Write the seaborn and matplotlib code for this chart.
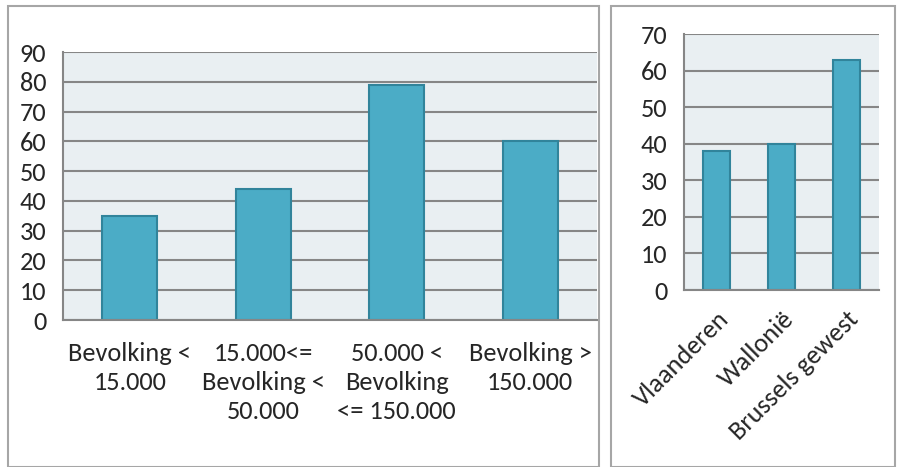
import matplotlib
matplotlib.use("Agg")
import numpy as np
import seaborn as sns
from matplotlib import pyplot as plt
from matplotlib.patches import Rectangle

# data
size_labels = ["Bevolking <\n15.000", "15.000<=\nBevolking <\n50.000",
               "50.000 <\nBevolking\n<= 150.000", "Bevolking >\n150.000"]
size_values = [35, 44, 79, 60]
region_labels = ["Vlaanderen", "Wallonië", "Brussels gewest"]
region_values = [38, 40, 63]

BAR = "#4BACC6"
EDGE = "#31849B"
BG = "#E9EFF2"
GRID = "#868686"
FS = 19

sns.set_style("white")
plt.rcParams["font.family"] = ["Carlito", "Lato", "DejaVu Sans"]
plt.rcParams["font.size"] = FS

W, H = 897, 467
fig = plt.figure(figsize=(W / 100, H / 100), dpi=100)


def px_axes(x0, y0, x1, y1):
    return fig.add_axes([x0 / W, 1 - y1 / H, (x1 - x0) / W, (y1 - y0) / H])


# panel frames
for x0, x1 in [(8, 599), (611, 895)]:
    fig.patches.append(Rectangle((x0 / W, 0), (x1 - x0) / W, 1 - 6 / H, transform=fig.transFigure,
                                 fill=False, edgecolor="#A6A6A6", linewidth=1.5))


def style(ax, n, ymax, step):
    ax.set_facecolor(BG)
    ax.set_xlim(-0.5, n - 0.5)
    ax.set_ylim(0, ymax)
    ax.set_yticks(np.arange(0, ymax + 1, step))
    ax.yaxis.grid(True, color=GRID, linewidth=1.5)
    ax.set_axisbelow(True)
    for s in ["top", "right"]:
        ax.spines[s].set_visible(False)
    for s in ["left", "bottom"]:
        ax.spines[s].set_color(GRID)
        ax.spines[s].set_linewidth(1.5)
    ax.tick_params(axis="y", length=7, width=1.5, color=GRID, pad=5, labelsize=FS)
    ax.tick_params(axis="x", which="major", length=0, pad=16, labelsize=FS)
    ax.set_xticks(np.arange(-0.5, n, 1.0), minor=True)
    ax.tick_params(axis="x", which="minor", length=7, width=1.5, color=GRID)
    ax.set_xlabel("")
    ax.set_ylabel("")


ax1 = px_axes(63, 52, 597, 320)
sns.barplot(x=size_labels, y=size_values, color=BAR, saturation=1, width=0.41,
            edgecolor=EDGE, linewidth=1.5, ax=ax1)
style(ax1, len(size_labels), 90, 10)
for lbl in ax1.get_xticklabels():
    lbl.set_multialignment("center")
    lbl.set_linespacing(1.3)

ax2 = px_axes(684, 34, 879, 290)
sns.barplot(x=region_labels, y=region_values, color=BAR, saturation=1, width=0.42,
            edgecolor=EDGE, linewidth=1.5, ax=ax2)
style(ax2, len(region_labels), 70, 10)
ax2.tick_params(axis="x", which="major", pad=12)
for lbl in ax2.get_xticklabels():
    lbl.set_rotation(45)
    lbl.set_ha("right")
    lbl.set_rotation_mode("anchor")

fig.savefig("out.png", dpi=100, facecolor="white")
